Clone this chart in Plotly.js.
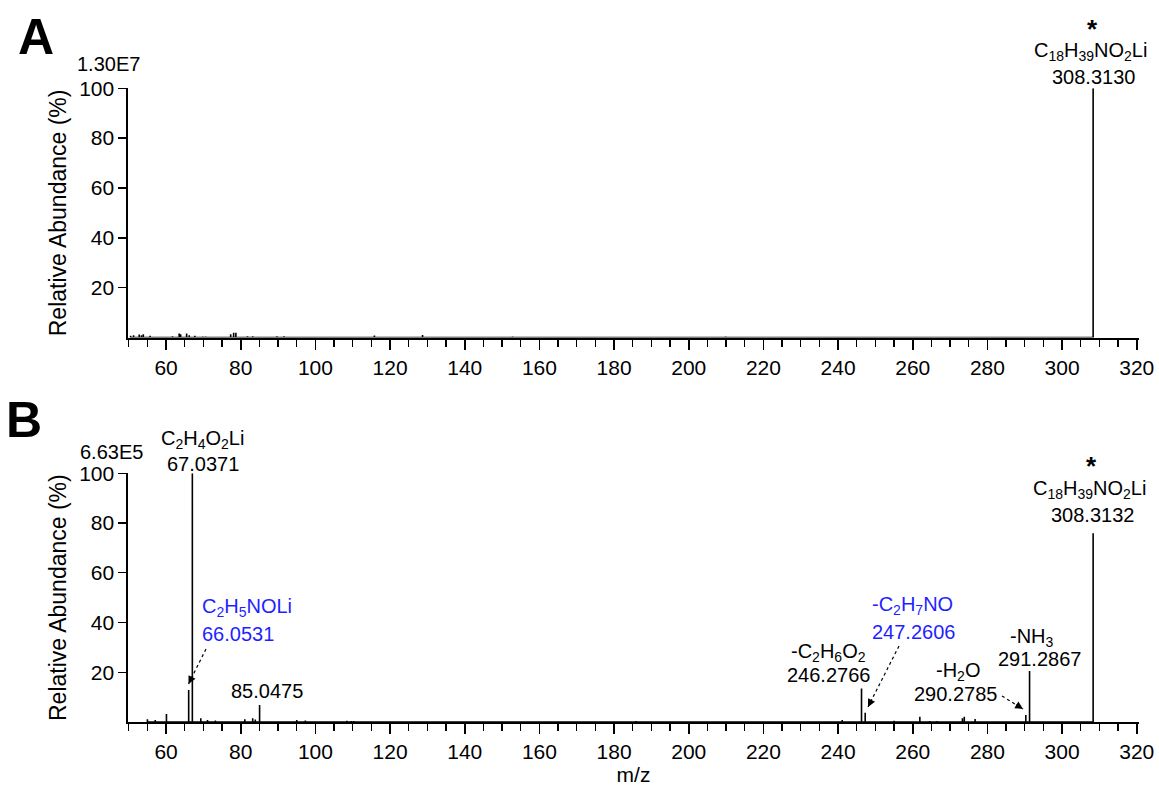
<!DOCTYPE html>
<html>
<head>
<meta charset="utf-8">
<script src="https://cdn.plot.ly/plotly-3.0.1.min.js"></script>
<style>html,body{margin:0;padding:0;background:#fff}#chart{width:1159px;height:786px}</style>
</head>
<body>
<div id="chart"></div>
<script>
// ---------- data ----------
// Panel A: MS spectrum, m/z and relative abundance (%)
const mzA  = [50.5, 51.3, 52.8, 53.4, 53.9, 55.7, 61.7, 63.5, 63.9, 65.5, 66.2, 67.7, 69.8, 70.6,
              77.3, 78.1, 78.7, 81.8, 83.2, 89.7, 91.6, 95.7, 115.8, 128.7, 139.6, 141.8, 151.0,
              152.8, 163.8, 165.7, 178.9, 209.9, 308.3130];
const intA = [0.7, 0.9, 1.2, 0.9, 1.3, 0.7, 0.5, 1.6, 1.3, 1.6, 0.9, 0.7, 0.4, 0.4,
              1.3, 1.9, 1.9, 0.5, 0.5, 0.5, 0.5, 0.3, 0.8, 1.0, 0.3, 0.3, 0.3,
              0.4, 0.3, 0.3, 0.3, 0.4, 100];
// Panel B: MS/MS spectrum
const mzB  = [55.0, 57.1, 60.1, 66.0531, 67.0371, 69.3, 71.1, 73.2, 81.1, 83.2, 83.9, 85.0475,
              95.0, 97.3, 108.4, 109.6, 110.3, 185.9, 241.1, 246.2766, 247.2606, 255.0, 261.9,
              264.6, 266.4, 273.3, 273.8, 276.7, 290.2785, 291.2867, 308.3132];
const intB = [1.1, 0.8, 3.2, 12.9, 100, 1.5, 0.8, 0.6, 1.1, 1.5, 1.0, 6.8,
              0.8, 0.6, 0.5, 0.4, 0.4, 0.4, 0.8, 13.5, 3.7, 0.5, 2.1,
              0.4, 0.4, 1.5, 2.1, 1.2, 2.8, 20.5, 75.9];
const xTickVals = [60, 80, 100, 120, 140, 160, 180, 200, 220, 240, 260, 280, 300, 320];
const yTickVals = [20, 40, 60, 80, 100];
const scaleA = "1.30E7", scaleB = "6.63E5";

// ---------- helpers ----------
function sticks(mz, ab) {
  const x = [], y = [];
  mz.forEach((m, i) => { x.push(m, m, m); y.push(0, ab[i], 0); });
  return {x, y};
}
const FONT = "Liberation Sans, Arial, Helvetica, sans-serif";
const W = 1159, H = 786, ML = 128, MR = 20;
const XR = [49.8, 320.6];
const PXU = (W - ML - MR) / (XR[1] - XR[0]);
const xd = px => XR[0] + (px - ML) / PXU;          // pixel -> m/z
const B_TOP = 473.3, B_BOT = 722, A_TOP = 88.3, A_BOT = 337.5;
const ydB = py => (B_BOT - py) / (B_BOT - B_TOP) * 100;
const px2paperX = px => (px - ML) / (W - ML - MR);
const py2paperY = py => (H - py) / H;

const sA = sticks(mzA, intA), sB = sticks(mzB, intB);
const traces = [
  {x: sA.x, y: sA.y, xaxis: 'x', yaxis: 'y', type: 'scatter', mode: 'lines',
   line: {color: '#000', width: 1.6}, hoverinfo: 'skip', showlegend: false},
  {x: sB.x, y: sB.y, xaxis: 'x2', yaxis: 'y2', type: 'scatter', mode: 'lines',
   line: {color: '#000', width: 1.6}, hoverinfo: 'skip', showlegend: false}
];

function xAxis(anchor, withTitle) {
  const ax = {
    anchor: anchor, range: XR, domain: [0, 1],
    tickmode: 'array', tickvals: xTickVals,
    ticks: 'outside', ticklen: 10, tickwidth: 1.6, tickcolor: '#000',
    minor: {tickmode: 'linear', tick0: 0, dtick: 5, ticks: 'outside', ticklen: 7, tickwidth: 1.4, tickcolor: '#000'},
    showline: true, linecolor: '#000', linewidth: 2.2,
    showgrid: false, zeroline: false,
    tickfont: {family: FONT, size: 21, color: '#000'}
  };
  if (withTitle) ax.title = {text: 'm/z', font: {family: FONT, size: 21, color: '#000'}, standoff: 6};
  return ax;
}
function yAxis(anchor, domain) {
  return {
    anchor: anchor, domain: domain, range: [0, 100],
    tickmode: 'array', tickvals: yTickVals,
    ticks: 'outside', ticklen: 8, tickwidth: 1.4, tickcolor: '#000',
    showline: true, linecolor: '#000', linewidth: 1.6,
    showgrid: false, zeroline: false,
    tickfont: {family: FONT, size: 21, color: '#000'},
    title: {text: 'Relative Abundance (%)', font: {family: FONT, size: 23, color: '#000'}, standoff: 6}
  };
}

const BLUE = '#1f1fff';
function lab(text, px, py, opts) {
  return Object.assign({
    text: text, x: px2paperX(px), y: py2paperY(py), xref: 'paper', yref: 'paper',
    showarrow: false, xanchor: 'center', yanchor: 'middle',
    font: {family: FONT, size: 20, color: '#000'}
  }, opts || {});
}
const blueFont = {family: FONT, size: 20, color: BLUE};
const starFont = {family: FONT, size: 26, color: '#000'};

const annotations = [
  lab('<b>A</b>', 36, 37, {font: {family: FONT, size: 50, color: '#000'}}),
  lab('<b>B</b>', 24, 420, {font: {family: FONT, size: 50, color: '#000'}}),
  lab(scaleA, 108, 64),
  lab(scaleB, 111, 452),
  // Panel A precursor
  lab('<b>*</b>', 1092, 29, {font: starFont}),
  lab('C<sub>18</sub>H<sub>39</sub>NO<sub>2</sub>Li', 1090, 51),
  lab('308.3130', 1093, 77),
  // Panel B
  lab('<b>*</b>', 1091, 466, {font: starFont}),
  lab('C<sub>18</sub>H<sub>39</sub>NO<sub>2</sub>Li', 1089, 489),
  lab('308.3132', 1092, 515),
  lab('C<sub>2</sub>H<sub>4</sub>O<sub>2</sub>Li', 202, 439),
  lab('67.0371', 203, 464),
  lab('C<sub>2</sub>H<sub>5</sub>NOLi', 200, 607, {xanchor: 'left', font: blueFont}),
  lab('66.0531', 200, 634, {xanchor: 'left', font: blueFont}),
  lab('85.0475', 267, 691),
  lab('-C<sub>2</sub>H<sub>6</sub>O<sub>2</sub>', 828, 652),
  lab('246.2766', 828, 675),
  lab('-C<sub>2</sub>H<sub>7</sub>NO', 912, 605, {font: blueFont}),
  lab('247.2606', 913, 632, {font: blueFont}),
  lab('-H<sub>2</sub>O', 958, 671),
  lab('290.2785', 955, 694),
  lab('-NH<sub>3</sub>', 1032, 637),
  lab('291.2867', 1039, 659)
];

// dotted arrows in panel B: [tailPx, tailPy, tipPx, tipPy]
const arrows = [[206, 649, 188.5, 684], [899, 646, 868, 707], [1002, 696, 1023, 709]];
const shapes = [];
arrows.forEach(a => {
  const [tx, ty, hx, hy] = a;
  shapes.push({type: 'line', xref: 'x2', yref: 'y2', x0: xd(tx), y0: ydB(ty), x1: xd(hx), y1: ydB(hy),
               line: {color: '#000', width: 1.2, dash: 'dot'}});
  const dx = tx - hx, dy = ty - hy, L = Math.hypot(dx, dy);
  annotations.push({x: xd(hx), y: ydB(hy), xref: 'x2', yref: 'y2', text: '',
    showarrow: true, arrowhead: 2, arrowsize: 1.3, arrowwidth: 1.2, arrowcolor: '#000',
    ax: dx / L * 10, ay: dy / L * 10, axref: 'pixel', ayref: 'pixel', standoff: 0});
});

const layout = {
  width: W, height: H,
  margin: {l: ML, r: MR, t: 0, b: 0},
  paper_bgcolor: '#fff', plot_bgcolor: '#fff',
  font: {family: FONT, color: '#000'},
  showlegend: false,
  xaxis: xAxis('y', false),
  yaxis: yAxis('x', [1 - A_BOT / H, 1 - A_TOP / H]),
  xaxis2: xAxis('y2', true),
  yaxis2: yAxis('x2', [1 - B_BOT / H, 1 - B_TOP / H]),
  annotations: annotations,
  shapes: shapes
};
Plotly.newPlot('chart', traces, layout, {displayModeBar: false, staticPlot: true});
</script>
</body>
</html>
